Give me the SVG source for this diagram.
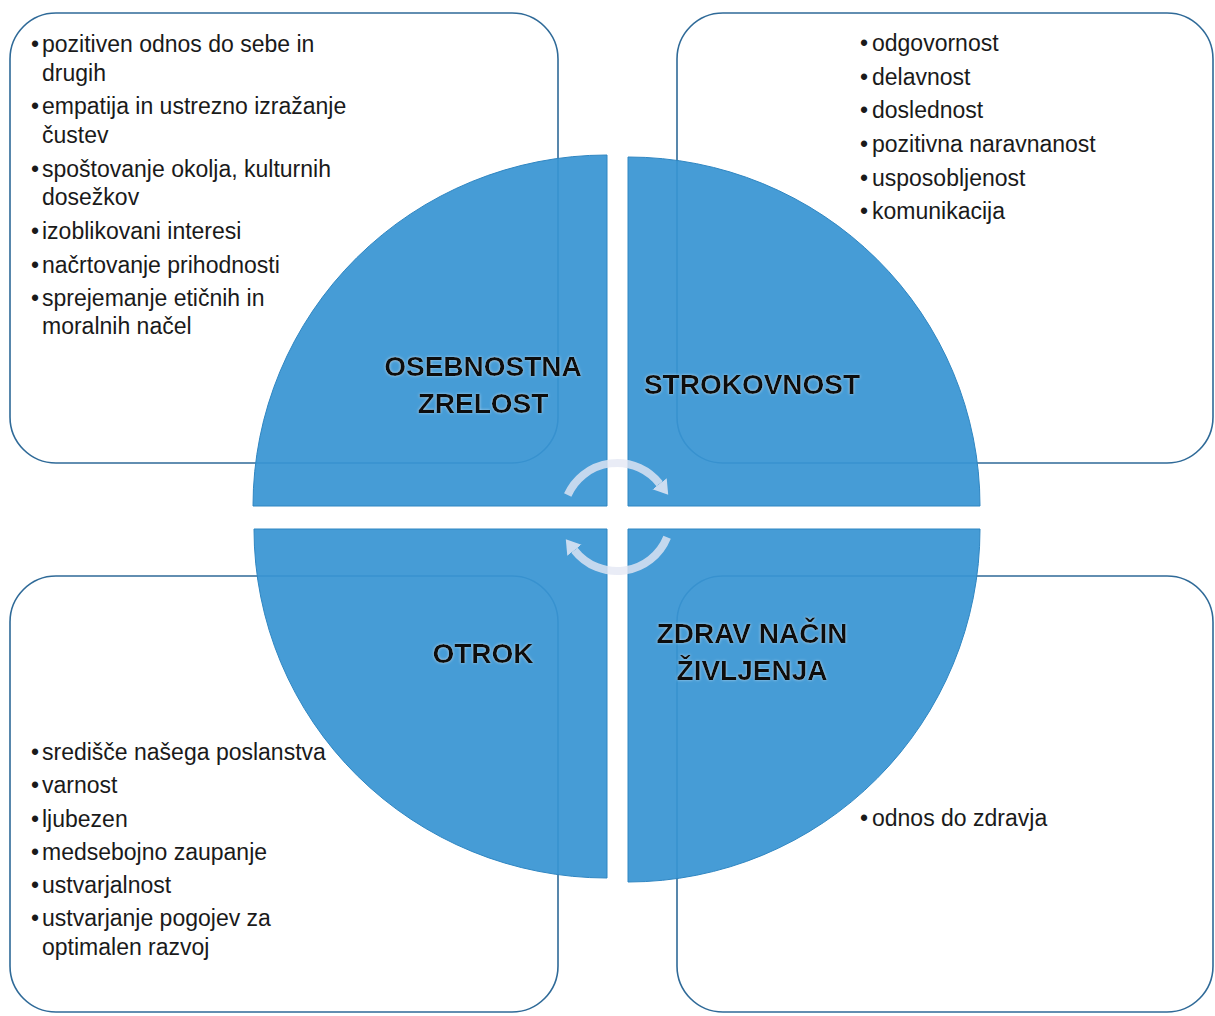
<svg xmlns="http://www.w3.org/2000/svg" width="1215" height="1016" viewBox="0 0 1215 1016">
<defs>
<style>
.box{fill:#ffffff;stroke:#2f6a98;stroke-width:1.6}
.sector{fill:#3895d3;fill-opacity:0.93;stroke:#2f86c2;stroke-width:1}
.item{font-family:"Liberation Sans",Arial,sans-serif;font-size:23px;fill:#1a1a1a}
.label{font-family:"Liberation Sans",Arial,sans-serif;font-size:28px;font-weight:bold;fill:#111111;text-anchor:middle;filter:url(#glow)}
.arc{fill:none;stroke:#e3e7f4;stroke-opacity:0.8;stroke-width:8}
</style>
<filter id="glow" x="-10%" y="-30%" width="120%" height="160%">
<feGaussianBlur in="SourceAlpha" stdDeviation="1.5" result="b"/>
<feFlood flood-color="#ffffff" flood-opacity="0.55"/>
<feComposite in2="b" operator="in" result="g"/>
<feMerge><feMergeNode in="g"/><feMergeNode in="SourceGraphic"/></feMerge>
</filter>
<marker id="ah" markerUnits="userSpaceOnUse" markerWidth="20" markerHeight="24" refX="0" refY="10" orient="auto" viewBox="0 0 20 20">
<path d="M0,1 L14,10 L0,19 Z" fill="#e3e7f4" fill-opacity="0.85"/>
</marker>
</defs>
<rect width="1215" height="1016" fill="#ffffff"/>

<g id="boxes">
<rect id="box-tl" class="box" x="10" y="13" width="548" height="450" rx="46"/>
<rect id="box-tr" class="box" x="677" y="13" width="536" height="450" rx="46"/>
<rect id="box-bl" class="box" x="10" y="576" width="548" height="436" rx="46"/>
<rect id="box-br" class="box" x="677" y="576" width="536" height="436" rx="46"/>
</g>

<g id="sector-osebnostna">
<path class="sector" d="M607,506 L253,506 A354,351 0 0 1 607,155 Z"/>
<text class="label" x="483" y="376">OSEBNOSTNA</text>
<text class="label" x="483" y="413">ZRELOST</text>
</g>
<g id="sector-strokovnost">
<path class="sector" d="M628,506 L628,157 A352,349 0 0 1 980,506 Z"/>
<text class="label" x="752" y="394">STROKOVNOST</text>
</g>
<g id="sector-otrok">
<path class="sector" d="M607,529 L607,878 A353,349 0 0 1 254,529 Z"/>
<text class="label" x="483" y="663">OTROK</text>
</g>
<g id="sector-zdrav">
<path class="sector" d="M628,529 L980,529 A352,353 0 0 1 628,882 Z"/>
<text class="label" x="752" y="643">ZDRAV NAČIN</text>
<text class="label" x="752" y="680">ŽIVLJENJA</text>
</g>

<g id="connectors">
<path class="arc" d="M567.7,495 A54,54 0 0 1 659.6,483.8" marker-end="url(#ah)"/>
<path class="arc" d="M667.1,537.2 A54,54 0 0 1 574.4,550.2" marker-end="url(#ah)"/>
</g>

<g id="list-osebnostna" class="item">
<text x="31" y="52">•</text><text x="42" y="52">pozitiven odnos do sebe in</text>
<text x="42" y="81">drugih</text>
<text x="31" y="114">•</text><text x="42" y="114">empatija in ustrezno izražanje</text>
<text x="42" y="143">čustev</text>
<text x="31" y="177">•</text><text x="42" y="177">spoštovanje okolja, kulturnih</text>
<text x="42" y="205">dosežkov</text>
<text x="31" y="239">•</text><text x="42" y="239">izoblikovani interesi</text>
<text x="31" y="273">•</text><text x="42" y="273">načrtovanje prihodnosti</text>
<text x="31" y="306">•</text><text x="42" y="306">sprejemanje etičnih in</text>
<text x="42" y="334">moralnih načel</text>
</g>

<g id="list-strokovnost" class="item">
<text x="860" y="51">•</text><text x="872" y="51">odgovornost</text>
<text x="860" y="85">•</text><text x="872" y="85">delavnost</text>
<text x="860" y="118">•</text><text x="872" y="118">doslednost</text>
<text x="860" y="152">•</text><text x="872" y="152">pozitivna naravnanost</text>
<text x="860" y="186">•</text><text x="872" y="186">usposobljenost</text>
<text x="860" y="219">•</text><text x="872" y="219">komunikacija</text>
</g>

<g id="list-otrok" class="item">
<text x="31" y="760">•</text><text x="42" y="760">središče našega poslanstva</text>
<text x="31" y="793">•</text><text x="42" y="793">varnost</text>
<text x="31" y="827">•</text><text x="42" y="827">ljubezen</text>
<text x="31" y="860">•</text><text x="42" y="860">medsebojno zaupanje</text>
<text x="31" y="893">•</text><text x="42" y="893">ustvarjalnost</text>
<text x="31" y="926">•</text><text x="42" y="926">ustvarjanje pogojev za</text>
<text x="42" y="955">optimalen razvoj</text>
</g>

<g id="list-zdrav" class="item">
<text x="860" y="826">•</text><text x="872" y="826">odnos do zdravja</text>
</g>
</svg>
